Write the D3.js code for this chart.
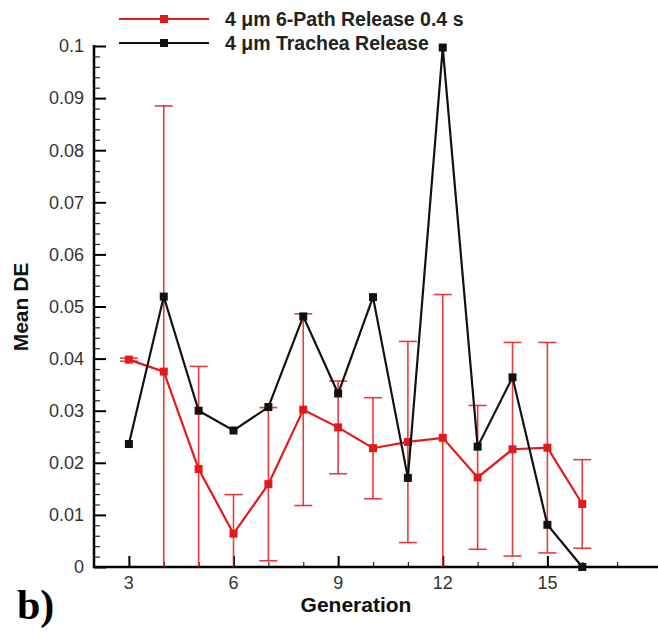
<!DOCTYPE html>
<html>
<head>
<meta charset="utf-8">
<script src="https://cdn.jsdelivr.net/npm/d3@7"></script>
<style>
  body { margin: 0; background: #fff; }
  svg { display: block; }
</style>
</head>
<body>
<svg id="chart" width="658" height="632"></svg>
<script>
// generations on the x axis
const generations = [3, 4, 5, 6, 7, 8, 9, 10, 11, 12, 13, 14, 15, 16]
// 4 um 6-Path Release 0.4 s (mean and half-width of the error bar)
const pathMean = [0.0398, 0.0375, 0.0188, 0.0064, 0.0159, 0.0302, 0.0268, 0.0228, 0.0240, 0.0248, 0.0172, 0.0226, 0.0229, 0.0121]
const pathErr  = [0.0003, 0.0510, 0.0197, 0.0075, 0.0147, 0.0184, 0.0089, 0.0097, 0.0193, 0.0275, 0.0138, 0.0205, 0.0202, 0.0085]
// 4 um Trachea Release
const tracheaMean = [0.0236, 0.0519, 0.0300, 0.0262, 0.0307, 0.0481, 0.0333, 0.0518, 0.0171, 0.0997, 0.0231, 0.0364, 0.0081, 0.0000]
// axis ticks
const xTicks = [3, 6, 9, 12, 15]
const yTicks = [0, 0.01, 0.02, 0.03, 0.04, 0.05, 0.06, 0.07, 0.08, 0.09, 0.1]
const seriesNames = ['4 \u03bcm 6-Path Release 0.4 s', '4 \u03bcm Trachea Release']

const red = '#e31a1c'
const black = '#111'

const svg = d3.select('#chart')

let x = d3.scaleLinear().domain([2, 18.2]).range([94, 659])
let y = d3.scaleLinear().domain([0, 0.1]).range([567, 46])

let pathData = generations.map((g, i) => ({g: g, v: pathMean[i], e: pathErr[i]}))
let trachData = generations.map((g, i) => ({g: g, v: tracheaMean[i]}))

// clip error bars below zero
svg.append('clipPath').attr('id', 'plotclip')
  .append('rect')
  .attr('x', 94).attr('y', 0)
  .attr('width', 570).attr('height', y(0))

////////////////////////////////
/// axes (ticks point inwards)
////////////////////////////////
let xAxis = svg.append('g')
  .attr('transform', 'translate(0,' + y(0) + ')')
xAxis.call(d3.axisBottom(x).tickValues(d3.range(3, 18, 1)).tickSize(-5).tickFormat(''))
xAxis.call(g => g.select('.domain').remove())
xAxis.selectAll('.tick line').attr('stroke', '#222').attr('stroke-width', 1.2)
xAxis.selectAll('.tick')
  .filter(d => xTicks.indexOf(d) >= 0)
  .select('line').attr('y2', -11).attr('stroke', '#000').attr('stroke-width', 2)

svg.append('g').selectAll('text')
  .data(xTicks)
  .enter()
  .append('text')
  .attr('x', d => x(d))
  .attr('y', y(0) + 22)
  .attr('text-anchor', 'middle')
  .attr('font-family', 'Liberation Sans, Arial, sans-serif')
  .attr('font-size', 18)
  .attr('fill', '#333')
  .text(d => d)

let yAxis = svg.append('g')
  .attr('transform', 'translate(' + x(2) + ',0)')
yAxis.call(d3.axisLeft(y).tickValues(d3.range(0, 0.1001, 0.002)).tickSize(-6).tickFormat(''))
yAxis.call(g => g.select('.domain').remove())
yAxis.selectAll('.tick line').attr('stroke', '#222').attr('stroke-width', 1.2)
yAxis.selectAll('.tick')
  .filter(d => Math.abs(Math.round(d * 100) - d * 100) < 1e-6)
  .select('line').attr('x2', 12).attr('stroke', '#000').attr('stroke-width', 2)

svg.append('g').selectAll('text')
  .data(yTicks)
  .enter()
  .append('text')
  .attr('x', x(2) - 10)
  .attr('y', d => y(d))
  .attr('dy', '0.35em')
  .attr('text-anchor', 'end')
  .attr('font-family', 'Liberation Sans, Arial, sans-serif')
  .attr('font-size', 18)
  .attr('fill', '#333')
  .text(d => d)

// axis lines
svg.append('line')
  .attr('x1', x(2)).attr('y1', y(0.1) - 1)
  .attr('x2', x(2)).attr('y2', y(0) + 1)
  .attr('stroke', '#000').attr('stroke-width', 2.5)
svg.append('line')
  .attr('x1', x(2) - 1).attr('y1', y(0))
  .attr('x2', 658).attr('y2', y(0))
  .attr('stroke', '#000').attr('stroke-width', 2.5)

////////////////////////////////
/// error bars of the red series
////////////////////////////////
let bars = svg.append('g').attr('clip-path', 'url(#plotclip)')
  .selectAll('g')
  .data(pathData)
  .enter()
  .append('g')
  .attr('stroke', red)
  .attr('stroke-opacity', 0.85)
  .attr('stroke-width', 1.6)

bars.append('line')
  .attr('x1', d => x(d.g)).attr('x2', d => x(d.g))
  .attr('y1', d => y(d.v + d.e)).attr('y2', d => y(d.v - d.e))
bars.append('line')
  .attr('x1', d => x(d.g) - 9).attr('x2', d => x(d.g) + 9)
  .attr('y1', d => y(d.v + d.e)).attr('y2', d => y(d.v + d.e))
bars.filter(d => d.v - d.e > 0)
  .append('line')
  .attr('x1', d => x(d.g) - 9).attr('x2', d => x(d.g) + 9)
  .attr('y1', d => y(d.v - d.e)).attr('y2', d => y(d.v - d.e))

////////////////////////////////
/// lines and square markers
////////////////////////////////
let line = d3.line().x(d => x(d.g)).y(d => y(d.v))

function drawSeries(data, color) {
  svg.append('path')
    .datum(data)
    .attr('fill', 'none')
    .attr('stroke', color)
    .attr('stroke-width', 2.2)
    .attr('d', line)

  svg.append('g').selectAll('rect')
    .data(data)
    .enter()
    .append('rect')
    .attr('x', d => x(d.g) - 4)
    .attr('y', d => y(d.v) - 4)
    .attr('width', 8)
    .attr('height', 8)
    .attr('fill', color)
}

drawSeries(pathData, red)
drawSeries(trachData, black)

////////////////////////////////
/// legend
////////////////////////////////
let legend = svg.append('g')
  .selectAll('g')
  .data([{name: seriesNames[0], color: red}, {name: seriesNames[1], color: black}])
  .enter()
  .append('g')
  .attr('transform', (d, i) => 'translate(0,' + (19 + i * 24) + ')')

legend.append('line')
  .attr('x1', 119).attr('x2', 209)
  .attr('y1', 0).attr('y2', 0)
  .attr('stroke', d => d.color)
  .attr('stroke-width', 2.2)
legend.append('rect')
  .attr('x', 160).attr('y', -4)
  .attr('width', 8).attr('height', 8)
  .attr('fill', d => d.color)
legend.append('text')
  .attr('x', 225)
  .attr('y', 0)
  .attr('dy', '0.35em')
  .attr('font-family', 'Liberation Sans, Arial, sans-serif')
  .attr('font-weight', 'bold')
  .attr('font-size', 19.5)
  .attr('fill', '#222')
  .text(d => d.name)

////////////////////////////////
/// titles
////////////////////////////////
svg.append('text')
  .attr('x', 356)
  .attr('y', 612)
  .attr('text-anchor', 'middle')
  .attr('font-family', 'Liberation Sans, Arial, sans-serif')
  .attr('font-weight', 'bold')
  .attr('font-size', 21)
  .attr('fill', '#111')
  .text('Generation')

svg.append('text')
  .attr('transform', 'translate(28,307) rotate(-90)')
  .attr('text-anchor', 'middle')
  .attr('font-family', 'Liberation Sans, Arial, sans-serif')
  .attr('font-weight', 'bold')
  .attr('font-size', 21)
  .attr('fill', '#111')
  .text('Mean DE')

svg.append('text')
  .attr('x', 17)
  .attr('y', 619)
  .attr('font-family', 'Liberation Serif, Times New Roman, serif')
  .attr('font-weight', 'bold')
  .attr('font-size', 42)
  .attr('fill', '#000')
  .text('b)')
</script>
</body>
</html>
